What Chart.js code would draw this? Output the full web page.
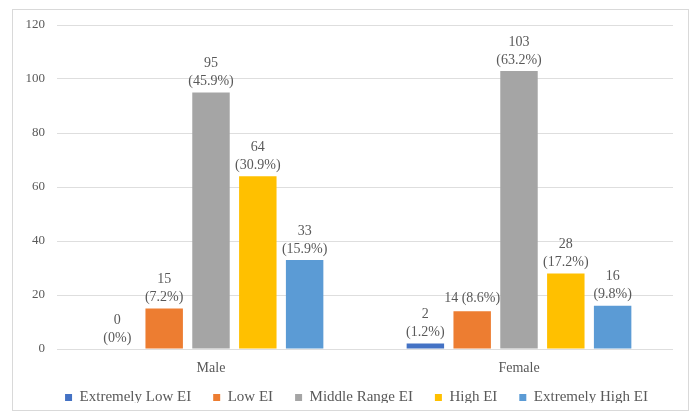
<!DOCTYPE html>
<html>
<head>
<meta charset="utf-8">
<script src="https://cdn.jsdelivr.net/npm/chart.js@4.4.1/dist/chart.umd.min.js"></script>
<style>
  html, body { margin: 0; padding: 0; background: #ffffff; }
  #frame { position: absolute; left: 12px; top: 9px; width: 677px; height: 402px; border: 1px solid #d9d9d9; box-sizing: border-box; }
  #wrap { position: absolute; left: 0; top: 0; width: 692px; height: 412px; }
</style>
</head>
<body>
<div id="frame"></div>
<div id="wrap"><canvas id="c" width="692" height="412"></canvas></div>
<script>
const categories = ['Male', 'Female'];
const seriesNames = ['Extremely Low EI', 'Low EI', 'Middle Range EI', 'High EI', 'Extremely High EI'];
const extremelyLowEI = [0, 2];
const lowEI = [15, 14];
const middleRangeEI = [95, 103];
const highEI = [64, 28];
const extremelyHighEI = [33, 16];
const extremelyLowPct = ['(0%)', '(1.2%)'];
const lowPct = ['(7.2%)', '(8.6%)'];
const middleRangePct = ['(45.9%)', '(63.2%)'];
const highPct = ['(30.9%)', '(17.2%)'];
const extremelyHighPct = ['(15.9%)', '(9.8%)'];
const yTicks = [0, 20, 40, 60, 80, 100, 120];

const colors = ['#4472C4', '#ED7D31', '#A5A5A5', '#FFC000', '#5B9BD5'];
const values = [extremelyLowEI, lowEI, middleRangeEI, highEI, extremelyHighEI];
const pcts = [extremelyLowPct, lowPct, middleRangePct, highPct, extremelyHighPct];
// labels that appear on a single line in the reference
const singleLine = { '1,1': true };

const FONT = '"Liberation Serif", "Times New Roman", serif';
const TEXT = '#595959';

const labelPlugin = {
  id: 'barLabels',
  beforeLayout(chart) {
    const lg = chart.legend;
    if (lg && !lg._patched) {
      const f = lg.fit;
      lg.fit = function () { f.call(this); this.height = 35; };
      lg._patched = true;
    }
  },
  afterLayout(chart) {
    const lg = chart.legend;
    if (lg) {
      lg.top -= 9; lg.bottom -= 9;
      lg.left += 14; lg.right += 14;
    }
  },
  afterDatasetsDraw(chart) {
    const ctx = chart.ctx;
    ctx.save();
    ctx.font = '14px ' + FONT;
    ctx.fillStyle = TEXT;
    ctx.textAlign = 'center';
    ctx.textBaseline = 'middle';
    chart.data.datasets.forEach((ds, di) => {
      const meta = chart.getDatasetMeta(di);
      meta.data.forEach((bar, i) => {
        const v = String(ds.data[i]);
        const p = pcts[di][i];
        if (singleLine[di + ',' + i]) {
          ctx.fillText(v + ' ' + p, bar.x, bar.y - 13);
        } else {
          ctx.fillText(p, bar.x, bar.y - 11);
          ctx.fillText(v, bar.x, bar.y - 29);
        }
      });
    });
    ctx.restore();
  }
};

new Chart(document.getElementById('c'), {
  type: 'bar',
  data: {
    labels: categories,
    datasets: seriesNames.map((name, k) => ({
      label: name,
      data: values[k],
      backgroundColor: colors[k],
      borderWidth: 0,
      categoryPercentage: 0.76,
      barPercentage: 0.8
    }))
  },
  options: {
    responsive: false,
    animation: false,
    layout: { padding: { left: 12, right: 19, top: 25, bottom: 0 } },
    plugins: {
      tooltip: { enabled: false },
      legend: {
        position: 'bottom',
        labels: {
          boxWidth: 7,
          boxHeight: 7,
          padding: 22,
          color: TEXT,
          font: { family: FONT, size: 15 }
        }
      }
    },
    scales: {
      x: {
        grid: { display: false },
        border: { display: false },
        ticks: { color: TEXT, font: { family: FONT, size: 14 }, padding: 3 },
        afterFit(scale) { scale.height = 28; }
      },
      y: {
        min: 0,
        max: 120,
        afterBuildTicks(scale) { scale.ticks = yTicks.map(v => ({ value: v })); },
        grid: { color: '#dedede', drawTicks: false },
        border: { display: false },
        ticks: { color: TEXT, font: { family: FONT, size: 13 }, padding: 12 },
        afterFit(scale) { scale.width = 45; }
      }
    }
  },
  plugins: [labelPlugin]
});
</script>
</body>
</html>
